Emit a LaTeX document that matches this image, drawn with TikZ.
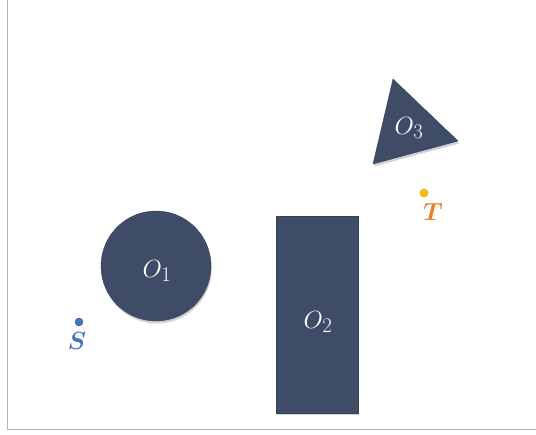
\documentclass[tikz,border=0pt]{standalone}
\usepackage{amsmath}
\usepackage{tikz}
\usetikzlibrary{shadows,shapes.geometric}
\definecolor{obst}{HTML}{3E4C68}
\definecolor{start}{HTML}{4472C4}
\definecolor{goal}{HTML}{ED7D31}
\definecolor{goalfill}{HTML}{FFC000}
\definecolor{frame}{HTML}{B4B4B4}
\tikzset{
  obs/.style={fill=obst,draw=obst!85!black,thin,drop shadow={opacity=0.3,fill=black!60,shadow xshift=0.8pt,shadow yshift=-2.5pt}},
  olbl/.style={text=white,font=\Huge},
  pt/.style={circle,draw=#1!75!black,fill=#1,inner sep=0pt,minimum size=8pt},
  ptlbl/.style={text=#1,font=\Huge},
}
\begin{document}
\begin{tikzpicture}[x=1pt,y=-1pt]
  \useasboundingbox (0,0) rectangle (536,435);
  \draw[frame,line width=0.9pt] (7,0) |- (536,429);
  % obstacles
  \node[obs,circle,minimum size=110pt,inner sep=0pt] (o1) at (156,266) {};
  \node[obs,rectangle,minimum width=82pt,minimum height=197pt,inner sep=0pt] (o2) at (317,314.5) {};
  \coordinate (o3a) at (393,79);
  \coordinate (o3b) at (458,141);
  \coordinate (o3c) at (373,164);
  \draw[obs] (o3a) -- (o3b) -- (o3c) -- cycle;
  \node[olbl] (o1l) at (157,271) {$O_1$};
  \node[olbl] (o2l) at (318,322) {$O_2$};
  \node[olbl] (o3l) at (409,128) {$O_3$};
  % start and target
  \node[pt=start] (s) at (79,322) {};
  \node[ptlbl=start] (sl) at (77,341) {$\boldsymbol{S}$};
  \node[pt=goalfill,draw=goal] (t) at (424,193) {};
  \node[ptlbl=goal] (tl) at (433,212) {$\boldsymbol{T}$};
\end{tikzpicture}
\end{document}
